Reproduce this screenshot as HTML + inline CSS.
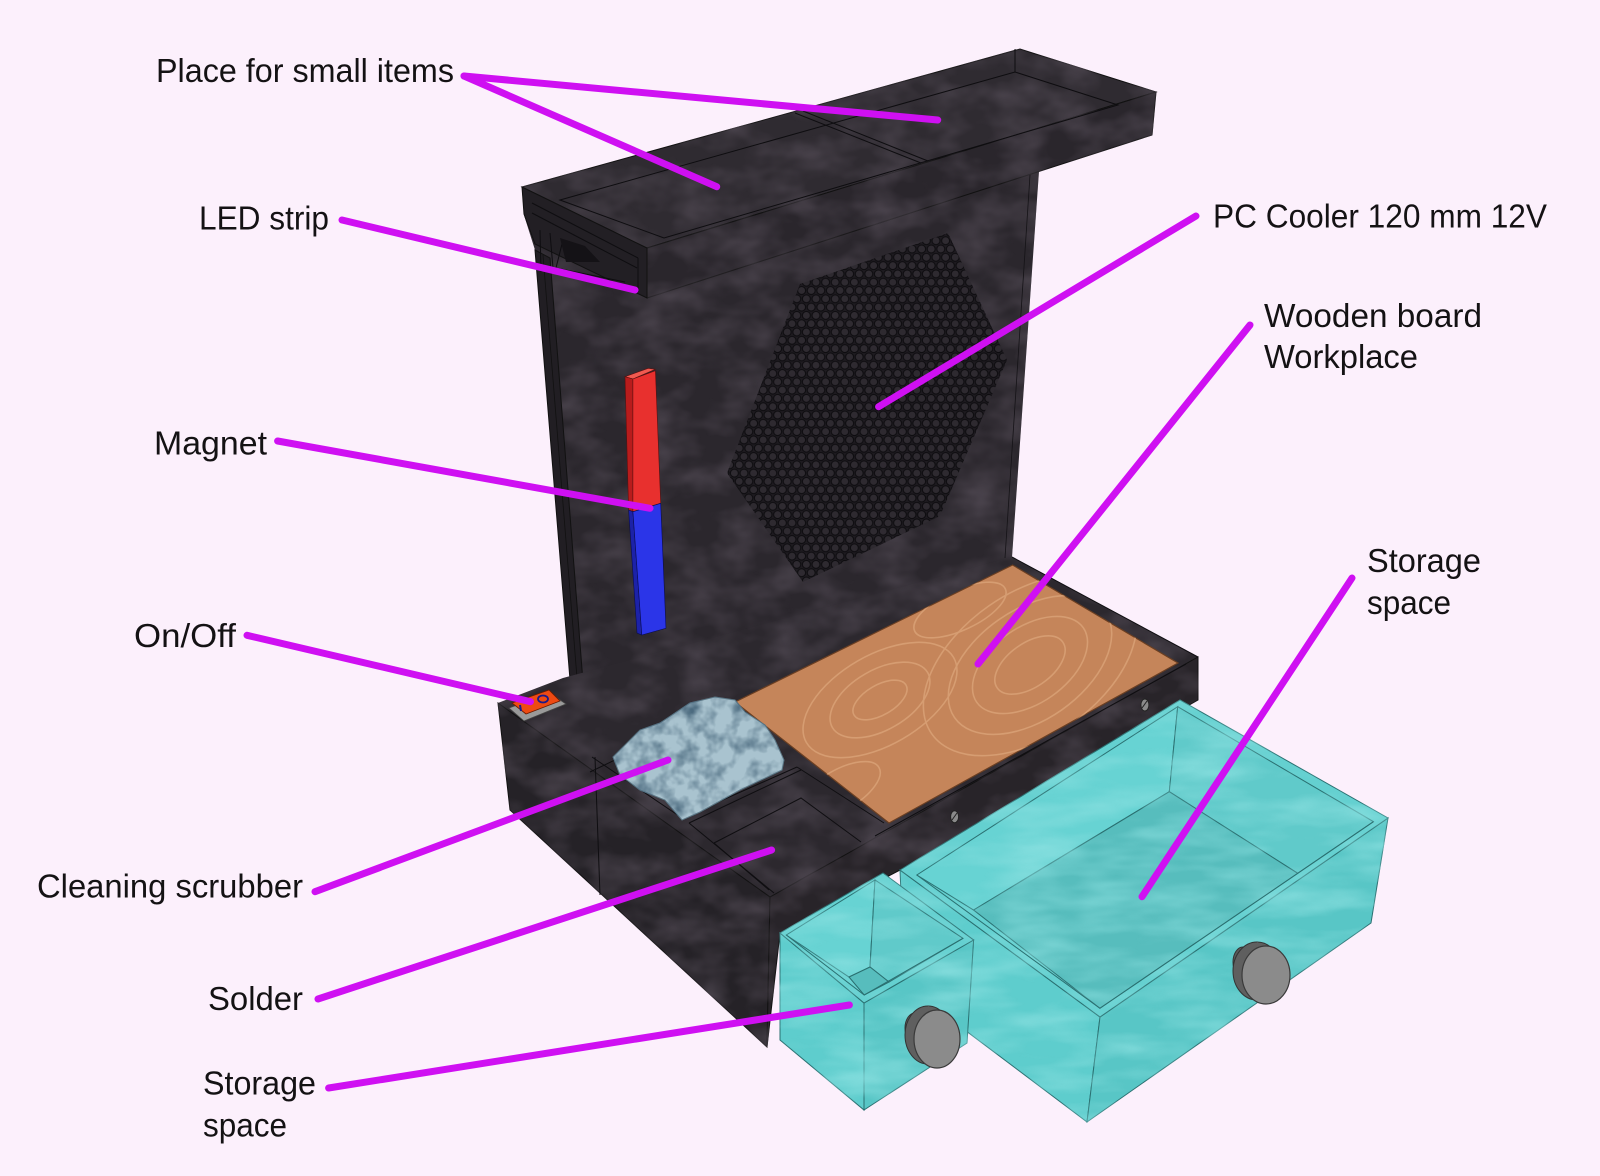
<!DOCTYPE html>
<html><head><meta charset="utf-8">
<style>
html,body{margin:0;padding:0;background:#fcf0fc;}
svg{display:block;}
text{font-family:"Liberation Sans",Arial,sans-serif;font-size:33px;fill:#141214;}
</style></head><body>
<svg width="1600" height="1176" viewBox="0 0 1600 1176" xmlns="http://www.w3.org/2000/svg">
<defs>
 <filter id="mot" color-interpolation-filters="sRGB">
  <feTurbulence type="fractalNoise" baseFrequency="0.022 0.035" numOctaves="3" seed="4" result="n"/>
  <feColorMatrix in="n" type="matrix" values="0 0 0 0 0.33  0 0 0 0 0.30  0 0 0 0 0.34  1.4 0 0 0 -0.5" result="c"/>
  <feComposite in="c" in2="SourceAlpha" operator="in" result="m"/>
  <feMerge><feMergeNode in="SourceGraphic"/><feMergeNode in="m"/></feMerge>
 </filter>
 <filter id="cy" color-interpolation-filters="sRGB">
  <feTurbulence type="fractalNoise" baseFrequency="0.012 0.045" numOctaves="3" seed="9" result="n"/>
  <feColorMatrix in="n" type="matrix" values="0 0 0 0 0.55  0 0 0 0 0.88  0 0 0 0 0.88  1.4 0 0 0 -0.5" result="c"/>
  <feComposite in="c" in2="SourceAlpha" operator="in" result="m"/>
  <feMerge><feMergeNode in="SourceGraphic"/><feMergeNode in="m"/></feMerge>
 </filter>
 <filter id="scr" color-interpolation-filters="sRGB">
  <feTurbulence type="fractalNoise" baseFrequency="0.06" numOctaves="3" seed="2" result="n"/>
  <feColorMatrix in="n" type="matrix" values="0 0 0 0 0.3  0 0 0 0 0.42  0 0 0 0 0.5  -2.2 0 0 0 1.3" result="c"/>
  <feComposite in="c" in2="SourceAlpha" operator="in" result="m"/>
  <feMerge><feMergeNode in="SourceGraphic"/><feMergeNode in="m"/></feMerge>
 </filter>
 <pattern id="holes" width="9.6" height="16.6" patternUnits="userSpaceOnUse">
  <rect width="9.6" height="16.6" fill="#1d1a1f"/>
  <g fill="#2e2a30" stroke="#0c0b0e" stroke-width="1.1">
   <circle cx="0" cy="0" r="4"/><circle cx="9.6" cy="0" r="4"/>
   <circle cx="4.8" cy="8.3" r="4"/>
   <circle cx="0" cy="16.6" r="4"/><circle cx="9.6" cy="16.6" r="4"/>
  </g>
 </pattern>
 <clipPath id="woodclip"><polygon points="735,702 1012.6,565 1178,663 889,823"/></clipPath>
</defs>

<rect width="1600" height="1176" fill="#fcf0fc"/>

<!-- back panel -->
<polygon points="522,190 1039,158 1039,171 1012,557 590,772 571,692 535,250 524,215" fill="#2b272d" filter="url(#mot)"/>
<polygon points="535,250 550,258 590,772 571,692" fill="#211e23" stroke="#111" stroke-width="1"/>
<line x1="543" y1="255" x2="582" y2="740" stroke="#111" stroke-width="0.8"/>
<line x1="1030" y1="175" x2="1005" y2="558" stroke="#151317" stroke-width="0.8"/>

<!-- fan grille -->
<polygon points="800,284 948,233 1007,360 940,516 803,582 727,473" fill="url(#holes)" opacity="0.95"/>

<!-- magnet -->
<polygon points="625,376.7 648.2,368.3 655.4,369.3 632.9,379" fill="#f05a50" stroke="#5a1010" stroke-width="0.6"/>
<polygon points="625,376.7 632.9,379 632.9,511.7 628.6,510" fill="#b81c1c" stroke="#5a1010" stroke-width="0.6"/>
<polygon points="632.9,379 655.4,370.7 660.7,503.3 632.9,511.7" fill="#e8302e" stroke="#5a1010" stroke-width="0.6"/>
<polygon points="628.6,510 632.9,511.7 641.8,635 637,633" fill="#1c22a8" stroke="#0a0c50" stroke-width="0.6"/>
<polygon points="632.9,511.7 660.7,503.3 666,628.3 641.8,635" fill="#2b35e8" stroke="#0a0c50" stroke-width="0.6"/>

<!-- top tray -->
<polygon points="522,187 1020,49 1156,92 647,248" fill="#2f2b31" stroke="#111" stroke-width="1" filter="url(#mot)"/>
<polygon points="647,248 1156,92 1152,135 647,298" fill="#2a262c" stroke="#111" stroke-width="1" filter="url(#mot)"/>
<polygon points="522,187 647,248 647,298 535,244 524,214" fill="#221f24" stroke="#111" stroke-width="1"/>
<g stroke="#0e0d10" stroke-width="1" fill="none">
 <polygon points="560,200 1015,72 1118,105 664,238"/>
 <line x1="795" y1="113" x2="921" y2="163"/>
 <line x1="803" y1="111" x2="928" y2="161"/>
 <line x1="1015" y1="72" x2="1015" y2="49"/>
 <line x1="532" y1="203" x2="638" y2="258"/>
 <line x1="532" y1="213" x2="637" y2="268"/>
 <line x1="638" y1="258" x2="638" y2="292"/>
 <line x1="540" y1="230" x2="541" y2="272"/>
 <line x1="550" y1="233" x2="553" y2="268"/>
 <line x1="563" y1="240" x2="556" y2="268"/>
 <line x1="556" y1="268" x2="625" y2="282"/>
</g>
<polygon points="560,238 585,246 600,262 566,262" fill="#141216"/>

<!-- base -->
<polygon points="498,703 563,678 1012,557 1198,657 1198,700 1180,703 900,870 780,933 767,1047 510,810" fill="#2c282e" filter="url(#mot)"/>
<polygon points="498,703 770,897 767,1047 510,810" fill="#252227" stroke="#111" stroke-width="1" filter="url(#mot)"/>
<polygon points="770,897 1198,657 1198,700 900,870 780,933 767,1047" fill="#282429" stroke="#111" stroke-width="1" filter="url(#mot)"/>
<g stroke="#0f0e11" stroke-width="1" fill="none">
 <line x1="1012" y1="557" x2="1198" y2="657"/>
 <line x1="595" y1="757" x2="600" y2="895"/>
 <line x1="592" y1="757" x2="682" y2="818"/>
 <line x1="682" y1="818" x2="797" y2="767"/>
 <line x1="797" y1="767" x2="884" y2="823"/>
 <line x1="689" y1="823" x2="774" y2="893"/>
 <line x1="689" y1="823" x2="801" y2="770"/>
 <polyline points="714,843 801,798 861,842"/>
 <line x1="714" y1="843" x2="769" y2="890"/>
 <line x1="590" y1="772" x2="735" y2="702"/>
 <line x1="875" y1="836" x2="1186" y2="664"/>
</g>

<!-- wood board -->
<polygon points="735,702 1012.6,565 1178,663 889,823" fill="#c5855a" stroke="#6b3f22" stroke-width="1.2"/>
<g clip-path="url(#woodclip)" fill="none" stroke="#dda77c" stroke-width="1.6" opacity="0.7">
 <ellipse cx="1030" cy="665" rx="40" ry="22" transform="rotate(-35 1030 665)"/>
 <ellipse cx="1030" cy="665" rx="65" ry="38" transform="rotate(-35 1030 665)"/>
 <ellipse cx="1030" cy="665" rx="92" ry="55" transform="rotate(-35 1030 665)"/>
 <ellipse cx="1030" cy="665" rx="120" ry="72" transform="rotate(-35 1030 665)"/>
 <ellipse cx="880" cy="700" rx="30" ry="15" transform="rotate(-30 880 700)"/>
 <ellipse cx="880" cy="700" rx="55" ry="30" transform="rotate(-30 880 700)"/>
 <ellipse cx="880" cy="700" rx="85" ry="45" transform="rotate(-30 880 700)"/>
 <ellipse cx="960" cy="610" rx="50" ry="20" transform="rotate(-25 960 610)"/>
 <ellipse cx="840" cy="790" rx="45" ry="20" transform="rotate(-30 840 790)"/>
</g>

<!-- scrubber -->
<polygon points="613,757 640,730 660,723 690,703 715,697 735,700 745,712 765,725 775,740 784,760 782,770 740,790 700,812 682,820 665,800 640,790 620,775" fill="#a9c3cf" stroke="#5d7886" stroke-width="1" filter="url(#scr)"/>

<!-- switch -->
<polygon points="509,708 550,693 566,704 524,721" fill="#9a9a9a" stroke="#444" stroke-width="0.8"/>
<polygon points="512,703 549,690 560,701 526,714" fill="#ee4a12" stroke="#6a1a00" stroke-width="0.8"/>
<line x1="520" y1="705" x2="521" y2="711" stroke="#1a1a8a" stroke-width="2"/>
<ellipse cx="543" cy="699" rx="5" ry="3.5" fill="none" stroke="#1a1a8a" stroke-width="1.8"/>

<!-- screws -->
<ellipse cx="954.6" cy="816.7" rx="4" ry="6" fill="#8a8a8a" stroke="#222" stroke-width="1"/>
<line x1="952" y1="820" x2="957" y2="813" stroke="#222" stroke-width="1"/>
<ellipse cx="1144.9" cy="705" rx="4" ry="6" fill="#8a8a8a" stroke="#222" stroke-width="1"/>
<line x1="1142" y1="708" x2="1147" y2="701" stroke="#222" stroke-width="1"/>

<!-- big drawer -->
<g stroke="#2a6f70" stroke-width="1">
 <polygon points="900,870 1100,1017 1087,1122 905,985" fill="#5ecdcd" filter="url(#cy)"/>
 <polygon points="1100,1017 1388,818 1371,923 1087,1122" fill="#58c6c6" filter="url(#cy)"/>
 <polygon points="900,870 1180,700 1388,818 1100,1017" fill="#64d0d0" filter="url(#cy)"/>
 <polygon points="916.8,875 1177.7,706.7 1169.3,791.7 973.6,910" fill="#67d3d3" filter="url(#cy)"/>
 <polygon points="1177.7,706.7 1373.4,821.7 1297.7,873.3 1169.3,791.7" fill="#60caca" filter="url(#cy)"/>
 <polygon points="973.6,910 1169.3,791.7 1297.7,873.3 1099.9,1008.3" fill="#57bdbd" filter="url(#cy)"/>
 <polyline points="916.8,875 1099.9,1008.3 1373.4,821.7" fill="none"/>
</g>
<!-- small drawer -->
<g stroke="#2a6f70" stroke-width="1">
 <polygon points="780,933 864,1003 864,1110 780,1040" fill="#5ecdcd" filter="url(#cy)"/>
 <polygon points="864,1003 973.6,940 967,1043 864,1110" fill="#58c6c6" filter="url(#cy)"/>
 <polygon points="780,933 883,873 973.6,940 864,1003" fill="#64d0d0" filter="url(#cy)"/>
 <polygon points="786.3,935 875,880 870,967 849,977" fill="#67d3d3" filter="url(#cy)"/>
 <polygon points="875,880 963,938.3 889,982 870,967" fill="#60caca" filter="url(#cy)"/>
 <polygon points="849,977 870,967 889,982 864.2,995" fill="#57bdbd"/>
 <polyline points="786.3,935 864.2,995 963,938.3" fill="none"/>
</g>

<!-- knobs -->
<ellipse cx="915" cy="1028" rx="10" ry="15" fill="#5a5a5a" stroke="#333" stroke-width="1"/>
<ellipse cx="928" cy="1035" rx="23" ry="29" fill="#5f5f5f" stroke="#333" stroke-width="1"/>
<polygon points="928,1006 937,1010 937,1068 928,1064" fill="#5f5f5f"/>
<ellipse cx="937" cy="1039" rx="23" ry="29" fill="#8b8b8b" stroke="#3a3a3a" stroke-width="1.2"/>
<ellipse cx="1243" cy="962" rx="10" ry="15" fill="#5a5a5a" stroke="#333" stroke-width="1"/>
<ellipse cx="1257" cy="971" rx="24" ry="29" fill="#5f5f5f" stroke="#333" stroke-width="1"/>
<polygon points="1257,942 1266,946 1266,1004 1257,1000" fill="#5f5f5f"/>
<ellipse cx="1266" cy="975" rx="24" ry="29" fill="#8b8b8b" stroke="#3a3a3a" stroke-width="1.2"/>

<!-- leader lines -->
<g stroke="#cf10f2" stroke-width="7" stroke-linecap="round" fill="none">
 <line x1="464" y1="76" x2="937.7" y2="120"/>
 <line x1="464" y1="76" x2="716.7" y2="186.7"/>
 <line x1="342" y1="220" x2="635" y2="290"/>
 <line x1="1196" y1="216" x2="878.6" y2="406.7"/>
 <line x1="1250" y1="325" x2="978" y2="664"/>
 <line x1="277.6" y1="441" x2="650" y2="508.3"/>
 <line x1="1352" y1="578" x2="1142" y2="896.7"/>
 <line x1="247" y1="635.3" x2="530.5" y2="701.7"/>
 <line x1="315" y1="891.7" x2="668" y2="760"/>
 <line x1="318" y1="999" x2="771.6" y2="850"/>
 <line x1="328.6" y1="1088" x2="849.4" y2="1005"/>
</g>

<!-- labels -->
<text x="156" y="82" textLength="298" lengthAdjust="spacingAndGlyphs">Place for small items</text>
<text x="199" y="229.6" textLength="130" lengthAdjust="spacingAndGlyphs">LED strip</text>
<text x="1213" y="227.7" textLength="334" lengthAdjust="spacingAndGlyphs">PC Cooler 120 mm 12V</text>
<text x="1264" y="327" textLength="218" lengthAdjust="spacingAndGlyphs">Wooden board</text>
<text x="1264" y="368" textLength="154" lengthAdjust="spacingAndGlyphs">Workplace</text>
<text x="154" y="454.6" textLength="113" lengthAdjust="spacingAndGlyphs">Magnet</text>
<text x="1367" y="572" textLength="114" lengthAdjust="spacingAndGlyphs">Storage</text>
<text x="1367" y="614" textLength="84" lengthAdjust="spacingAndGlyphs">space</text>
<text x="134" y="646.8" textLength="102" lengthAdjust="spacingAndGlyphs">On/Off</text>
<text x="37" y="897.7" textLength="266" lengthAdjust="spacingAndGlyphs">Cleaning scrubber</text>
<text x="208" y="1010" textLength="95" lengthAdjust="spacingAndGlyphs">Solder</text>
<text x="203" y="1094.6" textLength="113" lengthAdjust="spacingAndGlyphs">Storage</text>
<text x="203" y="1136.6" textLength="84" lengthAdjust="spacingAndGlyphs">space</text>
</svg>
</body></html>
